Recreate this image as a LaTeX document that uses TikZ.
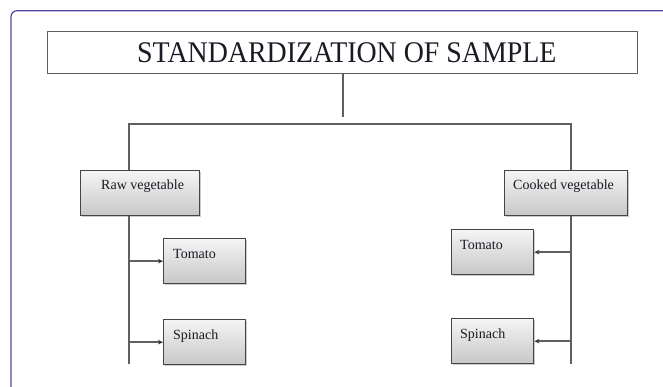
\documentclass[tikz,border=0pt]{standalone}
\usepackage{fontspec}
\setmainfont{Liberation Serif}
\newfontfamily\titlefont[FakeStretch=0.93]{Liberation Serif}
\usetikzlibrary{arrows.meta,shadows}
\definecolor{framecol}{HTML}{55489A}
\definecolor{linecol}{HTML}{5F5F5F}
\definecolor{boxborder}{HTML}{454545}
\definecolor{txtcol}{HTML}{1A1A24}
\tikzset{
  gbox/.style={draw=boxborder, line width=1.4pt, top color=white!96!black, bottom color=black!22,
    drop shadow={shadow xshift=1pt, shadow yshift=-1.5pt, fill=black!35, opacity=0.6},
    anchor=north west, inner sep=0pt},
  lbl/.style={anchor=base west, inner sep=0pt, text=txtcol, font=\fontsize{14}{16}\selectfont},
  conn/.style={draw=linecol, line width=1.3pt},
  arr/.style={draw=linecol, line width=1.5pt, -{Stealth[length=5pt,width=4.5pt,color=black!80]}}
}
\begin{document}
\begin{tikzpicture}[x=1pt,y=-1pt]
\useasboundingbox (0,0) rectangle (663,387);
% outer frame
\draw[framecol, line width=1.2pt, rounded corners=6pt] (663,10.7) -- (11,10.7) -- (11,387);
% title
\node[draw=linecol, line width=1.4pt, anchor=north west, minimum width=590pt, minimum height=42pt, inner sep=0pt] (title) at (47,31) {};
\node[anchor=base west, inner sep=0pt, text=txtcol, font=\titlefont\fontsize{30}{32}\selectfont] (titletxt) at (137,63) {STANDARDIZATION OF SAMPLE};
% category boxes
\node[gbox, minimum width=119pt, minimum height=45pt] (raw) at (80,170) {};
\node[lbl] (rawtxt) at (101,190) {Raw vegetable};
\node[gbox, minimum width=123pt, minimum height=45pt] (cooked) at (504,170) {};
\node[lbl] (cookedtxt) at (513,190) {Cooked vegetable};
% left items
\node[gbox, minimum width=82pt, minimum height=45pt] (ltom) at (163,238) {};
\node[lbl] (ltomtxt) at (173,258) {Tomato};
\node[gbox, minimum width=82pt, minimum height=45pt] (lspin) at (163,319) {};
\node[lbl] (lspintxt) at (173,339) {Spinach};
% right items
\node[gbox, minimum width=82pt, minimum height=45pt] (rtom) at (451,229) {};
\node[lbl] (rtomtxt) at (460,249) {Tomato};
\node[gbox, minimum width=82pt, minimum height=45pt] (rspin) at (451,318) {};
\node[lbl] (rspintxt) at (460,338) {Spinach};
% coordinates
\coordinate (tend) at (343,117);
\coordinate (bl) at (129,124);
\coordinate (br) at (571,124);
\coordinate (lend) at (129,364);
\coordinate (rend) at (571,364);
% connectors
\draw[conn] (tend |- title.south) -- (tend);
\draw[conn] (bl |- raw.north) -- (bl) -- (br) -- (br |- cooked.north);
\draw[conn] (lend |- raw.south) -- (lend);
\draw[conn] (rend |- cooked.south) -- (rend);
\draw[arr] (lend |- ltom.west) -- (ltom.west);
\draw[arr] (lend |- lspin.west) -- (lspin.west);
\draw[arr] (rend |- rtom.east) -- (rtom.east);
\draw[arr] (rend |- rspin.east) -- (rspin.east);
\end{tikzpicture}
\end{document}
